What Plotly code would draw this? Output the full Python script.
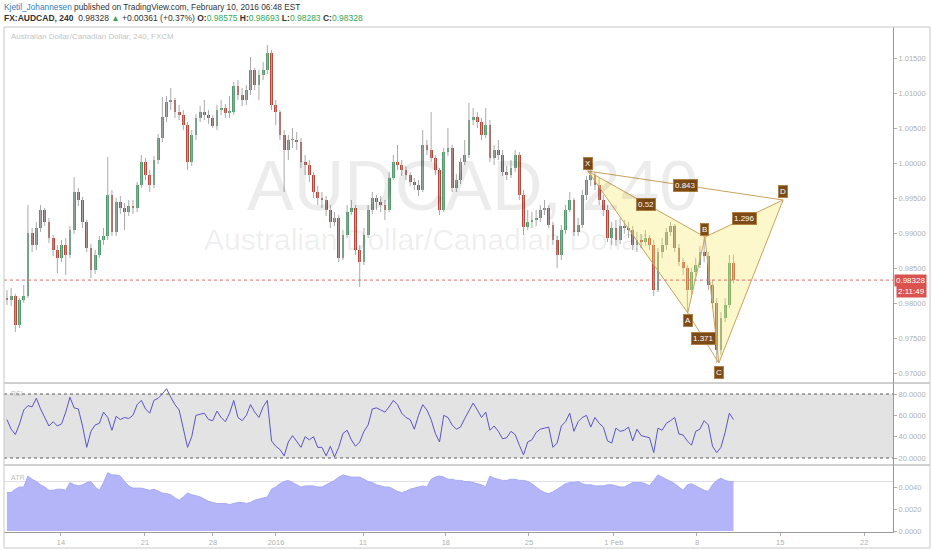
import plotly.graph_objects as go

# ---------------- data (AUDCAD, 240) ----------------
first_open = 0.98072
close = [0.98043, 0.98100, 0.97686, 0.98043, 0.98100, 0.99000, 0.98829, 0.99072, 0.99329, 0.99158,
         0.98929, 0.98758, 0.98643, 0.98829, 0.98686, 0.99043, 0.99586, 0.99472, 0.99158, 0.98786,
         0.98472, 0.98686, 0.98900, 0.98958, 0.99543, 0.99015, 0.99443, 0.99358, 0.99300, 0.99386,
         0.99358, 0.99686, 1.00015, 0.99829, 0.99686, 1.00043, 1.00358, 1.00658, 1.00872, 1.00900,
         1.00729, 1.00686, 1.00543, 1.00015, 1.00400, 1.00643, 1.00729, 1.00686, 1.00643, 1.00529,
         1.00757, 1.00786, 1.00715, 1.00729, 1.01100, 1.00972, 1.00900, 1.01043, 1.01329, 1.01115,
         1.01258, 1.01329, 1.01572, 1.00829, 1.00729, 1.00400, 1.00186, 1.00329, 1.00329, 1.00300,
         1.00015, 0.99972, 0.99829, 0.99586, 0.99500, 0.99472, 0.99329, 0.99158, 0.99215, 0.98643,
         0.98972, 0.99300, 0.99358, 0.98758, 0.98586, 0.98972, 0.99329, 0.99500, 0.99443, 0.99400,
         0.99329, 0.99786, 1.00015, 0.99972, 0.99900, 0.99829, 0.99729, 0.99686, 0.99615, 1.00258,
         1.00186, 1.00072, 0.99900, 0.99329, 1.00158, 1.00215, 0.99643, 0.99757, 1.00015, 1.00115,
         1.00615, 1.00658, 1.00586, 1.00400, 1.00543, 1.00072, 1.00186, 1.00115, 0.99872, 0.99829,
         0.99929, 1.00115, 0.99543, 0.99086, 0.99158, 0.99186, 0.99215, 0.99329, 0.99358, 0.99115,
         0.98900, 0.98686, 0.99043, 0.99329, 0.99472, 0.99015, 0.99115, 0.99543, 0.99757, 0.99829,
         0.99686, 0.99472, 0.99329, 0.98929, 0.99072, 0.98900, 0.99100, 0.99072, 0.99043, 0.98829,
         0.98900, 0.98872, 0.98929, 0.98829, 0.98186, 0.98729, 0.98829, 0.99015, 0.99100, 0.98786,
         0.98586, 0.98500, 0.98186, 0.98443, 0.98543, 0.98729, 0.98672, 0.98258, 0.98000, 0.97329,
         0.97786, 0.97972, 0.98575, 0.98328]
high = [0.98186, 0.98215, 0.98129, 0.98072, 0.98258, 0.99400, 0.99072, 0.99158, 0.99400, 0.99358,
        0.99215, 0.98972, 0.98829, 0.98900, 0.98929, 0.99100, 0.99800, 0.99643, 0.99515, 0.99186,
        0.98843, 0.98758, 0.98958, 0.99072, 1.00086, 0.99615, 0.99500, 0.99529, 0.99429, 0.99472,
        0.99472, 0.99729, 1.00115, 1.00072, 0.99900, 1.00100, 1.00415, 1.00943, 1.00958, 1.01072,
        1.00929, 1.00829, 1.00757, 1.00586, 1.00472, 1.00700, 1.00815, 1.00900, 1.00757, 1.00686,
        1.00829, 1.00900, 1.00843, 1.00958, 1.01158, 1.01186, 1.01072, 1.01115, 1.01515, 1.01358,
        1.01329, 1.01443, 1.01686, 1.01615, 1.00900, 1.00757, 1.00472, 1.00400, 1.00500, 1.00443,
        1.00358, 1.00115, 1.00043, 0.99872, 0.99672, 0.99586, 0.99529, 0.99400, 0.99300, 0.99258,
        0.99043, 0.99400, 0.99472, 0.99400, 0.98829, 0.99072, 0.99400, 0.99586, 0.99543, 0.99529,
        0.99472, 0.99872, 1.00115, 1.00258, 1.00043, 0.99958, 0.99872, 0.99786, 0.99757, 1.00472,
        1.00329, 1.00729, 1.00115, 0.99929, 1.00215, 1.00500, 1.00258, 0.99843, 1.00072, 1.00329,
        1.00858, 1.00786, 1.00729, 1.00643, 1.00786, 1.00615, 1.00258, 1.00329, 1.00186, 0.99958,
        1.00043, 1.00186, 1.00158, 0.99615, 0.99329, 0.99300, 0.99329, 0.99400, 0.99472, 0.99400,
        0.99158, 0.98958, 0.99115, 0.99400, 0.99586, 0.99500, 0.99215, 0.99615, 0.99815, 0.99900,
        0.99872, 0.99786, 0.99543, 0.99400, 0.99158, 0.99186, 0.99215, 0.99186, 0.99158, 0.99100,
        0.99015, 0.98986, 0.99043, 0.98972, 0.98900, 0.98786, 0.98929, 0.99072, 0.99158, 0.99129,
        0.98843, 0.98643, 0.98543, 0.98500, 0.98643, 0.98815, 0.98943, 0.98729, 0.98329, 0.98072,
        0.97872, 0.98072, 0.98686, 0.98693]
low = [0.97972, 0.97958, 0.97586, 0.97643, 0.98000, 0.98072, 0.98729, 0.98758, 0.99015, 0.99100,
       0.98858, 0.98672, 0.98429, 0.98586, 0.98400, 0.98643, 0.98986, 0.99386, 0.99072, 0.98729,
       0.98358, 0.98415, 0.98643, 0.98829, 0.98900, 0.98958, 0.98958, 0.99272, 0.99043, 0.99243,
       0.99272, 0.99300, 0.99643, 0.99757, 0.99586, 0.99643, 0.99986, 1.00300, 1.00586, 1.00757,
       1.00643, 1.00615, 1.00472, 0.99900, 0.99958, 1.00329, 1.00586, 1.00615, 1.00558, 1.00500,
       1.00472, 1.00686, 1.00643, 1.00643, 1.00686, 1.00900, 1.00815, 1.00829, 1.00972, 1.01043,
       1.00900, 1.01186, 1.01272, 1.00757, 1.00543, 1.00329, 0.99586, 1.00043, 1.00215, 1.00186,
       0.99929, 0.99829, 0.99729, 0.99500, 0.99400, 0.99358, 0.99243, 0.99072, 0.99100, 0.98586,
       0.98615, 0.98929, 0.99258, 0.98686, 0.98229, 0.98543, 0.98929, 0.99272, 0.99329, 0.99300,
       0.99186, 0.99300, 0.99757, 0.99900, 0.99815, 0.99757, 0.99672, 0.99615, 0.99529, 0.99586,
       1.00115, 1.00015, 0.99829, 0.99258, 0.99300, 1.00100, 0.99586, 0.99586, 0.99700, 0.99972,
       1.00072, 1.00543, 1.00500, 1.00329, 1.00358, 1.00015, 0.99972, 1.00043, 0.99815, 0.99757,
       0.99786, 0.99872, 0.99472, 0.98972, 0.99043, 0.99072, 0.99100, 0.99158, 0.99258, 0.99072,
       0.98829, 0.98500, 0.98615, 0.98986, 0.99300, 0.98958, 0.98958, 0.99072, 0.99472, 0.99672,
       0.99615, 0.99400, 0.99243, 0.98872, 0.98829, 0.98815, 0.98843, 0.98986, 0.98929, 0.98758,
       0.98729, 0.98786, 0.98815, 0.98758, 0.98100, 0.98158, 0.98643, 0.98758, 0.98958, 0.98729,
       0.98529, 0.98400, 0.97872, 0.98115, 0.98386, 0.98500, 0.98586, 0.98186, 0.97929, 0.97143,
       0.97258, 0.97729, 0.97929, 0.98283]
rsi = [56, 47, 42, 52, 65, 69, 68, 76, 66, 58,
       50, 54, 50, 52, 63, 77, 67, 66, 50, 30,
       45, 51, 52.5, 63, 58, 46, 59, 56, 58, 57,
       60, 70, 74, 66, 62, 74, 76, 80, 85, 77,
       70, 65, 48, 30, 40, 60, 61, 62, 56, 55,
       64, 58, 54, 62, 74, 58, 55, 60, 70, 63,
       58, 68, 74, 36, 31, 28, 22, 35, 41, 36,
       30, 40, 37, 40, 30, 30, 22, 31, 21, 30,
       43, 46, 37, 31, 35, 45, 51, 66, 67, 65,
       63, 68, 74, 70, 62, 58, 56, 47, 60, 70,
       65, 56, 43, 35, 60, 58, 51, 47, 49, 57,
       64, 71.5, 65, 58, 63, 46, 50, 45, 38, 39,
       45, 42, 32, 23, 35, 37, 44, 47, 48, 49,
       30, 34, 50, 54, 62, 45, 54, 58, 60, 49,
       58, 52.5, 49, 36, 34, 48, 45, 46, 49, 36,
       47, 41, 40, 39, 25, 48, 46, 52.5, 55, 58,
       42.5, 41.5, 36, 32, 45, 47, 55, 51, 31, 25,
       30, 44, 62, 56]
atr = [0.0035, 0.0035, 0.0038, 0.0040, 0.0040, 0.0050, 0.0047, 0.0045, 0.0042, 0.0040,
       0.0037, 0.0037, 0.0038, 0.0038, 0.0037, 0.0044, 0.0042, 0.0041, 0.0042, 0.0044,
       0.0045, 0.0040, 0.0037, 0.0044, 0.0053, 0.0051, 0.0051, 0.0050, 0.0045, 0.0041,
       0.0039, 0.0039, 0.0039, 0.0038, 0.0037, 0.0038, 0.0036, 0.00345, 0.0034, 0.0033,
       0.0030, 0.0028, 0.0031, 0.00345, 0.0033, 0.0032, 0.0031, 0.0029, 0.0027, 0.0026,
       0.0025, 0.0025, 0.0025, 0.0024, 0.0025, 0.0026, 0.0026, 0.0025, 0.0026, 0.0028,
       0.0029, 0.0030, 0.0031, 0.0038, 0.0040, 0.0043, 0.0045, 0.0046, 0.0044, 0.0042,
       0.0040, 0.0041, 0.0041, 0.0041, 0.0040, 0.0040, 0.0042, 0.0044, 0.0046, 0.0049,
       0.0051, 0.0050, 0.0049, 0.0049, 0.0049, 0.0047, 0.0045, 0.0044, 0.0042, 0.0041,
       0.0040, 0.0040, 0.0038, 0.0036, 0.0035, 0.0036, 0.0038, 0.0039, 0.0040, 0.0041,
       0.0040, 0.0047, 0.0049, 0.0050, 0.0049, 0.0047, 0.0047, 0.0046, 0.0046, 0.0045,
       0.0045, 0.0044, 0.0043, 0.0042, 0.0040, 0.0050, 0.0048, 0.0047, 0.0046, 0.0046,
       0.0047, 0.0047, 0.0046, 0.0046, 0.0045, 0.0043, 0.0040, 0.0037, 0.0035, 0.0034,
       0.00355, 0.0038, 0.0041, 0.0043, 0.0044, 0.0044, 0.0045, 0.0043, 0.0042, 0.0042,
       0.0041, 0.0041, 0.0041, 0.0042, 0.0042, 0.0041, 0.0040, 0.0040, 0.0042, 0.0044,
       0.0044, 0.0044, 0.0043, 0.0041, 0.0046, 0.0051, 0.0049, 0.0047, 0.0045, 0.0043,
       0.0040, 0.0037, 0.0042, 0.0043, 0.0041, 0.0039, 0.0037, 0.0036, 0.0042, 0.0046,
       0.0048, 0.0046, 0.0045, 0.0045]

tick_pos = [12.87, 32.87, 49.06, 64.06, 84.78, 104.5, 124.3, 144.5, 164.3, 184.1, 204.1]
tick_text = ["14", "21", "28", "2016", "11", "18", "25", "1 Feb", "8", "15", "22"]
price_ticks = [0.970, 0.975, 0.980, 0.985, 0.990, 0.995, 1.000, 1.005, 1.010, 1.015]
rsi_ticks = [20, 40, 60, 80]
atr_ticks = [0.0, 0.002, 0.004]

pat_names = ["X", "A", "B", "C", "D"]
pat_x = [138.3, 162.1, 166.2, 169.5, 184.8]
pat_y = [0.99886, 0.97858, 0.98943, 0.97143, 0.99472]
ratio_text = {"XB": "0.52", "AC": "1.371", "BD": "1.296", "XD": "0.843"}

last_price = 0.98328
countdown = "2:11:49"
countdown_level = 0.98158
atr_last = 0.0045

# ---------------- build ----------------
N = len(close)
xs = list(range(N))
opens = [first_open] + close[:-1]
UP, DN, WICK = "#4f9b6c", "#b9473b", "#a9a9a9"

fig = go.Figure()

# wicks
wx, wy = [], []
for i in xs:
    wx += [i, i, None]
    wy += [low[i], high[i], None]
fig.add_trace(go.Scatter(x=wx, y=wy, mode="lines", line=dict(color=WICK, width=1),
                         hoverinfo="skip", xaxis="x", yaxis="y"))
# bodies
base = [min(o, c) for o, c in zip(opens, close)]
hgt = [max(abs(c - o), 0.00006) for o, c in zip(opens, close)]
cols = [UP if c >= o else DN for o, c in zip(opens, close)]
fig.add_trace(go.Bar(x=xs, y=hgt, base=base, width=0.68, marker=dict(color=cols, line=dict(width=0)),
                     hoverinfo="skip", xaxis="x", yaxis="y"))

# harmonic pattern
PFILL = "rgba(250,230,100,0.33)"
PLINE = "#c8a35e"
P = dict(zip(pat_names, zip(pat_x, pat_y)))
for tri in (["X", "A", "B"], ["B", "C", "D"]):
    pts = tri + [tri[0]]
    fig.add_trace(go.Scatter(x=[P[k][0] for k in pts], y=[P[k][1] for k in pts], mode="lines",
                             fill="toself", fillcolor=PFILL, line=dict(color=PLINE, width=1),
                             hoverinfo="skip", xaxis="x", yaxis="y"))
for a, b in (("X", "D"), ("A", "C")):
    fig.add_trace(go.Scatter(x=[P[a][0], P[b][0]], y=[P[a][1], P[b][1]], mode="lines",
                             line=dict(color=PLINE, width=1), hoverinfo="skip", xaxis="x", yaxis="y"))

# RSI
fig.add_trace(go.Scatter(x=xs, y=rsi, mode="lines", line=dict(color="#5a55c9", width=1),
                         hoverinfo="skip", xaxis="x", yaxis="y2"))
# ATR
fig.add_trace(go.Scatter(x=xs, y=atr, mode="lines", line=dict(color="#a7aaf6", width=1),
                         fill="tozeroy", fillcolor="#b3b5f8", hoverinfo="skip", xaxis="x", yaxis="y3"))

W, H = 932, 550
ML, MR, MT, MB = 4, 39, 27, 18
PW, PH = W - ML - MR, H - MT - MB


def xp(px):
    return (px - ML) / PW


def yp(py):
    return (H - MB - py) / PH


d_main0 = yp(383)
d_rsi0 = yp(465)
x_right = xp(930)

tickfont = dict(family="Liberation Sans, Arial, sans-serif", size=7.5, color="#b0b0b0")
axis_common = dict(showgrid=False, zeroline=False, showline=True, linecolor="#9a9a9a", linewidth=1,
                   ticks="outside", ticklen=3, tickcolor="#b0b0b0", tickfont=tickfont, fixedrange=True)

shapes = [
    dict(type="rect", xref="paper", yref="y2", x0=0, x1=1, y0=20, y1=80,
         fillcolor="#e3e3e3", line=dict(width=0), layer="below"),
    dict(type="line", xref="paper", yref="y2", x0=0, x1=1, y0=80, y1=80,
         line=dict(color="#5a5a5a", width=1, dash="dot")),
    dict(type="line", xref="paper", yref="y2", x0=0, x1=1, y0=20, y1=20,
         line=dict(color="#5a5a5a", width=1, dash="dot")),
    dict(type="line", xref="paper", yref="y3", x0=0, x1=1, y0=atr_last, y1=atr_last,
         line=dict(color="#dcdcf3", width=1), layer="below"),
    dict(type="line", xref="paper", yref="y", x0=0, x1=1, y0=last_price, y1=last_price,
         line=dict(color="#e06a6a", width=1, dash="dot")),
    dict(type="line", xref="paper", yref="paper", x0=0, x1=x_right, y0=d_main0, y1=d_main0,
         line=dict(color="#a0a0a0", width=1)),
    dict(type="line", xref="paper", yref="paper", x0=0, x1=x_right, y0=d_rsi0, y1=d_rsi0,
         line=dict(color="#a0a0a0", width=1)),
    dict(type="rect", xref="paper", yref="paper", x0=0, x1=x_right, y0=yp(548), y1=1,
         line=dict(color="#c8c8c8", width=1)),
]

LBL_BG = "#7c4b17"
lblfont = dict(family="Liberation Sans, Arial, sans-serif", size=8, color="white")
ann = []
# ratio labels at segment midpoints
for key, txt in ratio_text.items():
    a, b = P[key[0]], P[key[1]]
    ann.append(dict(x=(a[0] + b[0]) / 2, y=(a[1] + b[1]) / 2, xref="x", yref="y", text=txt,
                    xanchor="center", yanchor="middle",
                    showarrow=False, font=lblfont, bgcolor=LBL_BG, bordercolor="#b08040",
                    borderwidth=1, borderpad=1))
# point labels
shift = {"X": 8, "A": -8, "B": 8, "C": -9, "D": 8}
for k in pat_names:
    ann.append(dict(x=P[k][0], y=P[k][1], xref="x", yref="y", text=k, showarrow=False,
                    xanchor="center", yanchor="middle",
                    yshift=shift[k], font=lblfont, bgcolor=LBL_BG, bordercolor="#b08040",
                    borderwidth=1, borderpad=1))
# price tags
ann.append(dict(x=1.0, y=last_price, xref="paper", yref="y", xanchor="left", yanchor="middle",
                text=f"{last_price:.5f}",
                showarrow=False, font=dict(family="Liberation Sans, Arial", size=8, color="white"),
                bgcolor="#d9534f", borderpad=1, xshift=1))
ann.append(dict(x=1.0, y=countdown_level, xref="paper", yref="y", xanchor="left", yanchor="middle",
                text=countdown,
                showarrow=False, font=dict(family="Liberation Sans, Arial", size=8, color="white"),
                bgcolor="#d9534f", borderpad=1, xshift=3))
# header
ann.append(dict(x=xp(2), y=yp(7), xref="paper", yref="paper", xanchor="left", yanchor="middle",
                showarrow=False, font=dict(family="Liberation Sans, Arial, sans-serif", size=8.3, color="#333333"),
                text="<span style='color:#2f7dc4'>Kjetil_Johannesen</span> published on TradingView.com, "
                     "February 10, 2016 06:48 EST"))
G = "#34a853"
ann.append(dict(x=xp(2), y=yp(18), xref="paper", yref="paper", xanchor="left", yanchor="middle",
                showarrow=False, font=dict(family="Liberation Sans, Arial, sans-serif", size=8.5, color="#333333"),
                text=f"<b>FX:AUDCAD, 240</b>  0.98328 <span style='color:{G}'>▲</span> +0.00361 (+0.37%) "
                     f"<b>O:</b><span style='color:{G}'>0.98575</span> <b>H:</b><span style='color:{G}'>0.98693</span> "
                     f"<b>L:</b><span style='color:{G}'>0.98283</span> <b>C:</b><span style='color:{G}'>0.98328</span>"))
ann.append(dict(x=xp(9), y=yp(36), xref="paper", yref="paper", xanchor="left", yanchor="middle",
                showarrow=False, text="Australian Dollar/Canadian Dollar, 240, FXCM",
                font=dict(family="Liberation Sans, Arial", size=8, color="#c4c4c4")))
ann.append(dict(x=xp(9), y=yp(393), xref="paper", yref="paper", xanchor="left", yanchor="middle",
                showarrow=False, text="RSI", font=dict(family="Liberation Sans, Arial", size=7, color="#c0c0c0")))
ann.append(dict(x=xp(9), y=yp(477), xref="paper", yref="paper", xanchor="left", yanchor="middle",
                showarrow=False, text="ATR", font=dict(family="Liberation Sans, Arial", size=7, color="#c0c0c0")))
# watermark
ann.append(dict(x=xp(472), y=yp(186), xref="paper", yref="paper", xanchor="center", yanchor="middle",
                showarrow=False, text="AUDCAD, 240",
                font=dict(family="Liberation Sans, Arial", size=70, color="rgba(0,0,0,0.075)")))
ann.append(dict(x=xp(426), y=yp(239), xref="paper", yref="paper", xanchor="center", yanchor="middle",
                showarrow=False, text="Australian Dollar/Canadian Dollar",
                font=dict(family="Liberation Sans, Arial", size=30, color="rgba(0,0,0,0.075)")))

fig.update_layout(
    width=W, height=H, margin=dict(l=ML, r=MR, t=MT, b=MB),
    paper_bgcolor="white", plot_bgcolor="white", showlegend=False, hovermode=False,
    bargap=0,
    xaxis=dict(range=[-0.7, 210.97], anchor="y3", tickvals=tick_pos, ticktext=tick_text, **axis_common),
    yaxis=dict(domain=[d_main0, 1], range=[0.96858, 1.01943], side="right", anchor="x",
               tickvals=price_ticks, tickformat=".5f", **axis_common),
    yaxis2=dict(domain=[d_rsi0, d_main0], range=[13.44, 90.31], side="right", anchor="x",
                tickvals=rsi_ticks, tickformat=".4f", **axis_common),
    yaxis3=dict(domain=[0, d_rsi0], range=[-0.00009, 0.0060], side="right", anchor="x",
                tickvals=atr_ticks, tickformat=".4f", **axis_common),
    shapes=shapes, annotations=ann,
)

fig.write_html("out.html", config={"displayModeBar": False},
               post_script="document.body.style.margin='0';document.body.style.overflow='hidden';")
